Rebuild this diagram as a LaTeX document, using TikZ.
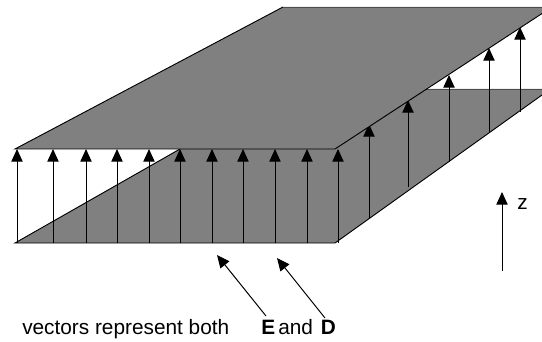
\documentclass[tikz,border=0pt]{standalone}
\usepackage{fontspec}
\setmainfont{Liberation Sans}
\usetikzlibrary{arrows.meta}
\definecolor{plate}{HTML}{808080}
\tikzset{
  vec/.style={draw=black,line width=0.75pt,-{Triangle[length=9.5pt,width=8.5pt]}},
  lbl/.style={inner sep=0pt,anchor=base west,font=\fontsize{15.6pt}{18pt}\selectfont}
}
\begin{document}
\begin{tikzpicture}[x=0.75pt,y=-0.75pt]
\useasboundingbox (0,0) rectangle (542,342);
\begin{scope}
\clip (0,0) rectangle (542,342);
% lower plate
\coordinate (bl) at (15,243);
\coordinate (br) at (335,243);
\coordinate (brr) at (542,95);
\coordinate (bbr) at (542,89);
\coordinate (bbl) at (425,89);
\coordinate (bm) at (180,149);
\path[fill=plate] (bl) -- (br) -- (brr) -- (bbr) -- (bbl) -- (335,149) -- (bm) -- cycle;
\draw[line width=0.7pt] (bm) -- (bl) -- (br) -- (brr);
\draw[line width=0.7pt,draw=black!70] (bbl) -- (bbr);
% vectors
\foreach \n/\x/\yb/\yt in {a/17/243/149,b/53/243/149,c/86/243/149,d/117/243/149,e/149/243/149,f/180/243/149,g/212/243/149,h/243/243/149,i/275/243/149,j/307/243/149,k/338/243/149,l/369/218/124,m/408/187/100,n/449/162/75,o/489/133/48,p/520/112/27}{
  \coordinate (\n0) at (\x,\yb);
  \coordinate (\n1) at (\x,\yt);
  \draw[vec] (\n0) -- (\n1);
}
% upper plate
\coordinate (tl) at (15,149);
\coordinate (tr) at (335,149);
\coordinate (trr) at (552,7);
\coordinate (tbl) at (283,7);
\path[fill=plate] (tl) -- (tr) -- (trr) -- (tbl) -- cycle;
\draw[line width=0.7pt] (tbl) -- (tl) -- (tr) -- (trr);
\draw[line width=0.7pt,draw=black!70] (tbl) -- (trr);
\end{scope}
% z axis
\coordinate (z0) at (502,271);
\coordinate (z1) at (502,192);
\draw[vec] (z0) -- (z1);
\node[lbl] (zl) at (517,209) {z};
% pointers
\coordinate (e0) at (266,316);
\coordinate (e1) at (217,255);
\coordinate (d0) at (325,318);
\coordinate (d1) at (277,258);
\draw[vec] (e0) -- (e1);
\draw[vec] (d0) -- (d1);
% caption
\node[lbl] (cap) at (22,334.5) {vectors represent both};
\node[lbl] (ee) at (261,334.5) {\textbf{E}};
\node[lbl] (an) at (278,334.5) {and};
\node[lbl] (dd) at (320.5,334.5) {\textbf{D}};
\end{tikzpicture}
\end{document}
